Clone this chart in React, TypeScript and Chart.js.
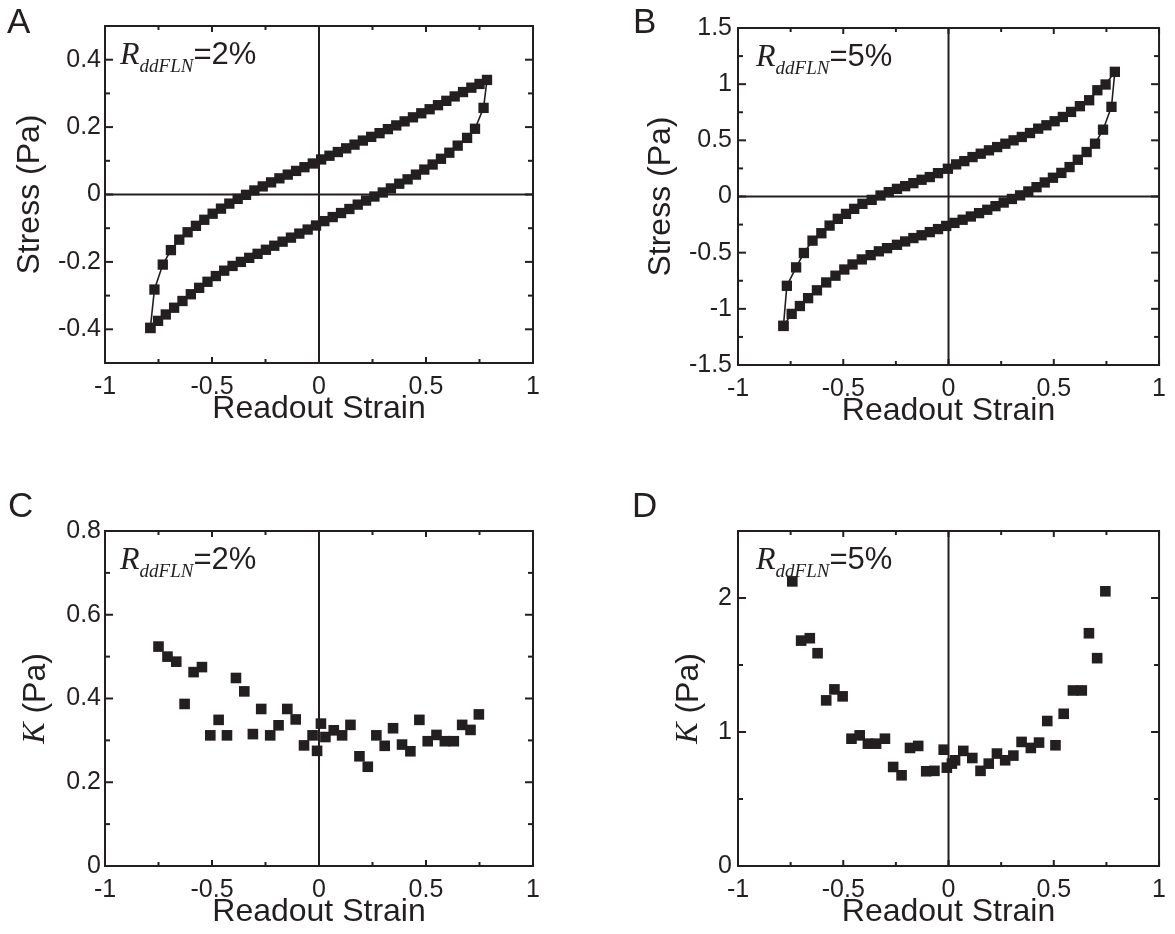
import React, { useEffect, useRef } from "react";
import { Chart, registerables } from "chart.js";

Chart.register(...registerables);

// ---------- data ----------
const xMajorTicks = [-1, -0.5, 0, 0.5, 1];
const xMinorTicks = [-0.75, -0.25, 0.25, 0.75];

const yMajorA = [-0.4, -0.2, 0, 0.2, 0.4];
const yMinorA = [-0.3, -0.1, 0.1, 0.3];
const yMajorB = [-1.5, -1, -0.5, 0, 0.5, 1, 1.5];
const yMinorB = [-1.25, -0.75, -0.25, 0.25, 0.75, 1.25];
const yMajorC = [0, 0.2, 0.4, 0.6, 0.8];
const yMinorC = [0.1, 0.3, 0.5, 0.7];
const yMajorD = [0, 1, 2];
const yMinorD = [0.5, 1.5];

// Panel A: stress loop, R = 2%
const strainA = [
  -0.788, -0.769, -0.73, -0.692, -0.653, -0.614, -0.575, -0.536, -0.497, -0.458, -0.419, -0.38, -0.341, -0.302,
  -0.263, -0.224, -0.185, -0.146, -0.107, -0.068, -0.029, 0.01, 0.049, 0.088, 0.127, 0.166, 0.205, 0.244, 0.283,
  0.322, 0.361, 0.4, 0.439, 0.478, 0.517, 0.556, 0.595, 0.634, 0.673, 0.712, 0.75, 0.785,
  0.769, 0.729, 0.692, 0.648, 0.609, 0.57, 0.531, 0.492, 0.453, 0.414, 0.375, 0.336, 0.298, 0.259, 0.22, 0.181,
  0.142, 0.103, 0.064, 0.025, -0.014, -0.053, -0.092, -0.131, -0.17, -0.209, -0.248, -0.287, -0.326, -0.365,
  -0.404, -0.443, -0.482, -0.521, -0.56, -0.599, -0.638, -0.677, -0.716, -0.752, -0.788,
];
const stressA = [
  -0.396, -0.282, -0.208, -0.165, -0.134, -0.112, -0.093, -0.075, -0.057, -0.042, -0.027, -0.013, -0.001, 0.012,
  0.024, 0.036, 0.048, 0.059, 0.07, 0.081, 0.092, 0.104, 0.115, 0.126, 0.137, 0.148, 0.16, 0.171, 0.182, 0.194,
  0.205, 0.217, 0.229, 0.241, 0.253, 0.265, 0.278, 0.291, 0.304, 0.317, 0.328, 0.34,
  0.257, 0.195, 0.168, 0.145, 0.124, 0.106, 0.089, 0.074, 0.059, 0.045, 0.032, 0.018, 0.006, -0.006, -0.018,
  -0.03, -0.043, -0.055, -0.067, -0.079, -0.092, -0.104, -0.116, -0.128, -0.14, -0.152, -0.164, -0.176, -0.188,
  -0.2, -0.212, -0.226, -0.242, -0.259, -0.277, -0.296, -0.316, -0.336, -0.356, -0.375, -0.396,
];

// Panel B: stress loop, R = 5%
const strainB = [
  -0.784, -0.768, -0.724, -0.687, -0.646, -0.604, -0.565, -0.526, -0.487, -0.448, -0.409, -0.365, -0.323, -0.284,
  -0.245, -0.206, -0.167, -0.128, -0.089, -0.05, -0.003, 0.036, 0.075, 0.114, 0.153, 0.192, 0.231, 0.27, 0.309,
  0.348, 0.387, 0.426, 0.465, 0.504, 0.543, 0.582, 0.624, 0.668, 0.707, 0.746, 0.79,
  0.774, 0.734, 0.696, 0.656, 0.614, 0.575, 0.536, 0.496, 0.457, 0.418, 0.379, 0.34, 0.301, 0.262, 0.223, 0.184,
  0.145, 0.106, 0.067, 0.028, -0.011, -0.05, -0.089, -0.128, -0.167, -0.206, -0.245, -0.292, -0.331, -0.37,
  -0.412, -0.456, -0.495, -0.537, -0.581, -0.625, -0.667, -0.706, -0.745, -0.784,
];
const stressB = [
  -1.152, -0.795, -0.631, -0.503, -0.393, -0.327, -0.259, -0.199, -0.155, -0.11, -0.065, -0.03, 0.009, 0.039,
  0.068, 0.092, 0.119, 0.149, 0.173, 0.208, 0.247, 0.286, 0.315, 0.351, 0.381, 0.411, 0.44, 0.47, 0.5, 0.53,
  0.565, 0.604, 0.634, 0.67, 0.708, 0.753, 0.804, 0.857, 0.946, 0.997, 1.11,
  0.798, 0.595, 0.47, 0.396, 0.327, 0.262, 0.21, 0.167, 0.125, 0.083, 0.045, 0.01, -0.022, -0.054, -0.086,
  -0.118, -0.148, -0.178, -0.207, -0.235, -0.262, -0.29, -0.317, -0.345, -0.37, -0.4, -0.43, -0.46, -0.488,
  -0.522, -0.56, -0.605, -0.65, -0.705, -0.765, -0.835, -0.905, -0.975, -1.045, -1.152,
];

// Panel C: K, R = 2%
const strainC = [
  -0.75, -0.708, -0.667, -0.628, -0.586, -0.547, -0.508, -0.469, -0.43, -0.388, -0.349, -0.309, -0.27, -0.228,
  -0.189, -0.148, -0.109, -0.07, -0.03, -0.009, 0.009, 0.03, 0.069, 0.108, 0.147, 0.189, 0.228, 0.268, 0.307,
  0.346, 0.388, 0.427, 0.469, 0.508, 0.549, 0.588, 0.63, 0.669, 0.708, 0.747,
];
const kC = [
  0.524, 0.5, 0.488, 0.387, 0.463, 0.475, 0.312, 0.349, 0.312, 0.449, 0.417, 0.315, 0.375, 0.312, 0.336, 0.375,
  0.35, 0.288, 0.312, 0.275, 0.34, 0.308, 0.324, 0.312, 0.337, 0.262, 0.237, 0.312, 0.287, 0.329, 0.29, 0.274,
  0.349, 0.298, 0.313, 0.298, 0.298, 0.337, 0.325, 0.362,
];

// Panel D: K, R = 5%
const strainD = [
  -0.742, -0.7, -0.659, -0.622, -0.581, -0.542, -0.503, -0.461, -0.422, -0.383, -0.344, -0.302, -0.263, -0.223,
  -0.183, -0.144, -0.106, -0.067, -0.023, -0.008, 0.016, 0.031, 0.07, 0.113, 0.152, 0.191, 0.23, 0.269, 0.308,
  0.347, 0.391, 0.43, 0.469, 0.508, 0.547, 0.591, 0.633, 0.667, 0.706, 0.745,
];
const kD = [
  2.124, 1.682, 1.7, 1.588, 1.236, 1.318, 1.266, 0.95, 0.975, 0.913, 0.913, 0.95, 0.739, 0.677, 0.881, 0.896,
  0.707, 0.71, 0.868, 0.734, 0.764, 0.789, 0.859, 0.806, 0.71, 0.764, 0.839, 0.789, 0.824, 0.926, 0.881, 0.921,
  1.082, 0.901, 1.136, 1.31, 1.31, 1.737, 1.551, 2.05,
];

// ---------- styling ----------
const INK = "#231f20";
const SANS = "'Liberation Sans', Arial, Helvetica, sans-serif";
const SERIF = "'Liberation Serif', 'Times New Roman', serif";

type Panel = {
  letter: string;
  xs: number[];
  ys: number[];
  line: boolean;
  yMin: number;
  yMax: number;
  yMajor: number[];
  yMinor: number[];
  kTitle: boolean;
  pct: string;
  pos: { left: number; top: number; w: number; h: number };
  area: { left: number; right: number; top: number; bottom: number };
  yPad: number;
  radius: number;
  letterX: number;
  letterY: number;
  yTitleOffset: number;
  annX: number;
};

const panels: Panel[] = [
  {
    letter: "A", xs: strainA, ys: stressA, line: true, yMin: -0.5, yMax: 0.5, yMajor: yMajorA, yMinor: yMinorA,
    kTitle: false, pct: "=2%", pos: { left: 0, top: 0, w: 587, h: 467 },
    area: { left: 105, right: 533, top: 26, bottom: 363 }, yPad: 4, radius: 7.3, letterX: 7, letterY: 33,
    yTitleOffset: 75, annX: 15,
  },
  {
    letter: "B", xs: strainB, ys: stressB, line: true, yMin: -1.5, yMax: 1.5, yMajor: yMajorB, yMinor: yMinorB,
    kTitle: false, pct: "=5%", pos: { left: 587, top: 0, w: 588, h: 467 },
    area: { left: 151, right: 577, top: 28, bottom: 365 }, yPad: 6, radius: 7.3, letterX: 46, letterY: 33,
    yTitleOffset: 77, annX: 18,
  },
  {
    letter: "C", xs: strainC, ys: kC, line: false, yMin: 0, yMax: 0.8, yMajor: yMajorC, yMinor: yMinorC,
    kTitle: true, pct: "=2%", pos: { left: 0, top: 467, w: 587, h: 467 },
    area: { left: 105, right: 533, top: 64, bottom: 399 }, yPad: 4, radius: 7.5, letterX: 8, letterY: 50,
    yTitleOffset: 69, annX: 15,
  },
  {
    letter: "D", xs: strainD, ys: kD, line: false, yMin: 0, yMax: 2.5, yMajor: yMajorD, yMinor: yMinorD,
    kTitle: true, pct: "=5%", pos: { left: 587, top: 467, w: 588, h: 467 },
    area: { left: 151, right: 577, top: 64, bottom: 399 }, yPad: 6, radius: 7.5, letterX: 45, letterY: 50,
    yTitleOffset: 49, annX: 18,
  },
];

function makeDecor(p: Panel) {
  return {
    id: "decor" + p.letter,
    beforeDatasetsDraw(chart: any) {
      const ctx: CanvasRenderingContext2D = chart.ctx;
      const { left, right, top, bottom } = chart.chartArea;
      const sx = chart.scales.x;
      const sy = chart.scales.y;
      const seg = (x1: number, y1: number, x2: number, y2: number) => {
        ctx.beginPath();
        ctx.moveTo(x1, y1);
        ctx.lineTo(x2, y2);
        ctx.stroke();
      };
      ctx.save();
      ctx.strokeStyle = INK;
      ctx.lineWidth = 2;
      ctx.lineCap = "butt";
      // zero lines
      const x0 = sx.getPixelForValue(0);
      seg(x0, top, x0, bottom);
      if (p.yMin < 0) {
        const y0 = sy.getPixelForValue(0);
        seg(left, y0, right, y0);
      }
      // frame
      ctx.strokeRect(left, top, right - left, bottom - top);
      // ticks (inward, mirrored)
      for (const v of xMajorTicks) {
        const px = sx.getPixelForValue(v);
        seg(px, bottom, px, bottom - 6);
        seg(px, top, px, top + 6);
      }
      for (const v of xMinorTicks) {
        const px = sx.getPixelForValue(v);
        seg(px, bottom, px, bottom - 4);
        seg(px, top, px, top + 4);
      }
      for (const v of p.yMajor) {
        const py = sy.getPixelForValue(v);
        seg(left, py, left + 8, py);
        seg(right, py, right - 8, py);
      }
      for (const v of p.yMinor) {
        const py = sy.getPixelForValue(v);
        seg(left, py, left + 5, py);
        seg(right, py, right - 5, py);
      }

      ctx.fillStyle = INK;
      // panel letter
      ctx.textAlign = "left";
      ctx.textBaseline = "alphabetic";
      ctx.font = `35px ${SANS}`;
      ctx.fillText(p.letter, p.letterX, p.letterY);

      // x title
      ctx.font = `32px ${SANS}`;
      ctx.textAlign = "center";
      ctx.textBaseline = "middle";
      ctx.fillText("Readout Strain", (left + right) / 2, bottom + 46);

      // y title (rotated)
      ctx.save();
      ctx.translate(left - p.yTitleOffset, (top + bottom) / 2);
      ctx.rotate(-Math.PI / 2);
      ctx.textBaseline = "middle";
      if (p.kTitle) {
        ctx.font = `italic 32px ${SERIF}`;
        const kw = ctx.measureText("K").width;
        ctx.font = `32px ${SANS}`;
        const rw = ctx.measureText(" (Pa)").width;
        const start = -(kw + rw) / 2;
        ctx.textAlign = "left";
        ctx.font = `italic 32px ${SERIF}`;
        ctx.fillText("K", start, 0);
        ctx.font = `32px ${SANS}`;
        ctx.fillText(" (Pa)", start + kw, 0);
      } else {
        ctx.font = `32px ${SANS}`;
        ctx.textAlign = "center";
        ctx.fillText("Stress (Pa)", 0, 0);
      }
      ctx.restore();

      // annotation R_ddFLN = x%
      ctx.textAlign = "left";
      ctx.textBaseline = "alphabetic";
      const ax = left + p.annX;
      const ay = top + 38;
      ctx.font = `italic 32px ${SERIF}`;
      ctx.fillText("R", ax, ay);
      const rW = ctx.measureText("R").width;
      ctx.font = `italic 19px ${SERIF}`;
      ctx.fillText("ddFLN", ax + rW, ay + 8);
      const sW = ctx.measureText("ddFLN").width;
      ctx.font = `31px ${SANS}`;
      ctx.fillText(p.pct, ax + rW + sW, ay);

      ctx.restore();
    },
  };
}

function PanelChart({ p }: { p: Panel }) {
  const ref = useRef<HTMLCanvasElement | null>(null);
  useEffect(() => {
    if (!ref.current) return;
    const { w, h } = p.pos;
    const xH = 40;
    const chart = new Chart(ref.current, {
      type: "scatter",
      data: {
        datasets: [
          {
            data: p.xs.map((x, i) => ({ x, y: p.ys[i] })),
            showLine: p.line,
            borderColor: INK,
            borderWidth: 1.6,
            backgroundColor: INK,
            pointStyle: "rect",
            pointRadius: p.radius,
            pointBackgroundColor: INK,
            pointBorderWidth: 0,
            tension: 0,
          } as any,
        ],
      },
      options: {
        responsive: false,
        animation: false,
        devicePixelRatio: 1,
        events: [],
        layout: {
          padding: {
            left: 0,
            top: p.area.top,
            right: w - p.area.right,
            bottom: h - p.area.bottom - xH,
          },
        },
        plugins: { legend: { display: false }, tooltip: { enabled: false } },
        scales: {
          x: {
            type: "linear",
            min: -1,
            max: 1,
            afterBuildTicks: (s: any) => {
              s.ticks = xMajorTicks.map((v) => ({ value: v }));
            },
            afterFit: (s: any) => {
              s.height = xH;
            },
            grid: { display: false, drawTicks: false },
            border: { display: false },
            ticks: {
              padding: 9,
              autoSkip: false,
              maxRotation: 0,
              color: INK,
              font: { family: SANS, size: 25 },
              callback: (v: any) => String(v),
            },
          },
          y: {
            type: "linear",
            min: p.yMin,
            max: p.yMax,
            afterBuildTicks: (s: any) => {
              s.ticks = p.yMajor.map((v) => ({ value: v }));
            },
            afterFit: (s: any) => {
              s.width = p.area.left;
            },
            grid: { display: false, drawTicks: false },
            border: { display: false },
            ticks: {
              padding: p.yPad,
              autoSkip: false,
              color: INK,
              font: { family: SANS, size: 25 },
              callback: (v: any) => String(v),
            },
          },
        },
      } as any,
      plugins: [makeDecor(p)],
    });
    return () => chart.destroy();
  }, [p]);
  return (
    <canvas
      ref={ref}
      width={p.pos.w}
      height={p.pos.h}
      style={{
        position: "absolute",
        left: p.pos.left,
        top: p.pos.top,
        width: p.pos.w,
        height: p.pos.h,
      }}
    />
  );
}

export default function App() {
  return (
    <div
      style={{
        position: "absolute",
        left: 0,
        top: 0,
        width: 1175,
        height: 934,
        background: "#ffffff",
        overflow: "hidden",
      }}
    >
      {panels.map((p) => (
        <PanelChart key={p.letter} p={p} />
      ))}
    </div>
  );
}
